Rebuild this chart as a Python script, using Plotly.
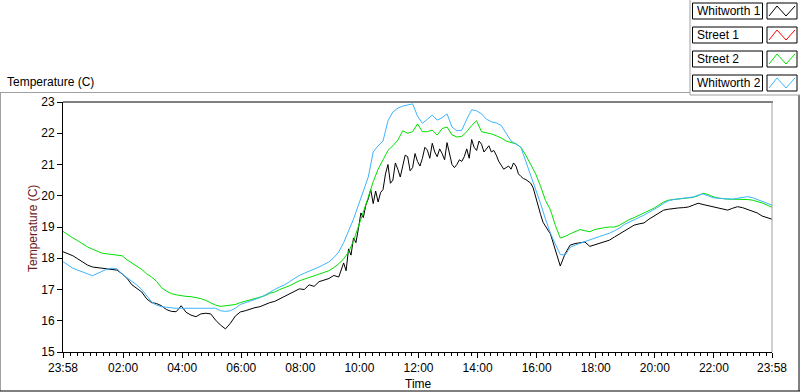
import plotly.graph_objects as go

# ---------------- data ----------------
# sample times: minutes after the 23:58 start
sample_minutes = list(range(0, 1441, 10))  # 10-minute readings (Street / Whitworth 2)
# Whitworth 1: 10-minute readings, 5-minute readings through the noisy midday
w1_minutes = list(range(0, 570, 10)) + list(range(570, 990, 5)) + list(range(990, 1441, 10))

whitworth_1 = [
    # 23:58 - 09:28 (10 min)
    18.21, 18.15, 18.08, 17.98, 17.89, 17.78, 17.72, 17.70, 17.68, 17.67,
    17.65, 17.62, 17.50, 17.36, 17.15, 17.02, 16.92, 16.70, 16.58, 16.55,
    16.48, 16.36, 16.30, 16.29, 16.48, 16.27, 16.18, 16.13, 16.22, 16.24,
    16.22, 16.02, 15.86, 15.74, 15.92, 16.15, 16.28, 16.32, 16.38, 16.42,
    16.45, 16.52, 16.58, 16.62, 16.70, 16.76, 16.85, 16.92, 17.02, 17.00,
    17.15, 17.10, 17.25, 17.30, 17.35, 17.45, 17.40,
    # 09:28 - 16:23 (5 min)
    17.85, 17.60, 18.30, 18.10, 18.65, 18.50, 18.95, 19.45, 19.30, 19.70,
    19.90, 20.20, 19.75, 20.15, 19.80, 20.10, 20.20, 20.70, 21.00, 20.40,
    20.50, 21.05, 20.85, 20.60, 20.95, 21.30, 21.25, 20.80, 20.90, 21.35,
    21.10, 20.95, 21.20, 21.55, 21.46, 21.20, 21.68, 21.40, 21.25, 21.50,
    21.35, 21.15, 21.70, 21.30, 21.00, 20.90, 21.00, 21.15, 21.10, 21.25,
    21.50, 21.20, 21.80, 21.55, 21.45, 21.75, 21.65, 21.40, 21.50, 21.60,
    21.40, 21.45, 21.30, 21.10, 20.98, 20.85, 20.90, 20.95, 20.85, 21.05,
    20.95, 20.70, 20.62, 20.55, 20.52, 20.45, 20.40, 20.25, 19.95, 19.70,
    19.40, 19.15, 19.00, 18.90,
    # 16:28 - 23:58 (10 min)
    18.78, 18.25, 17.75, 18.15, 18.42, 18.47, 18.50, 18.52, 18.38, 18.43,
    18.48, 18.52, 18.58, 18.68, 18.78, 18.87, 18.97, 19.06, 19.10, 19.13,
    19.25, 19.34, 19.45, 19.54, 19.57, 19.60, 19.61, 19.62, 19.64, 19.70,
    19.76, 19.72, 19.68, 19.66, 19.60, 19.56, 19.54, 19.60, 19.65, 19.62,
    19.56, 19.52, 19.45, 19.35, 19.30, 19.25,
]

street_1 = []  # no readings shown for this sensor

street_2 = [
    18.86, 18.75, 18.65, 18.56, 18.45, 18.36, 18.29, 18.22, 18.16, 18.14,
    18.12, 18.11, 18.08, 17.95, 17.85, 17.74, 17.64, 17.50, 17.40, 17.26,
    17.06, 16.95, 16.87, 16.83, 16.80, 16.78, 16.77, 16.75, 16.71, 16.65,
    16.58, 16.50, 16.46, 16.48, 16.49, 16.52, 16.58, 16.62, 16.66, 16.70,
    16.75, 16.80, 16.88, 16.92, 17.00, 17.05, 17.12, 17.20, 17.28, 17.33,
    17.38, 17.43, 17.50, 17.55, 17.60, 17.70, 17.82, 17.98, 18.20, 18.55,
    19.00, 19.45, 19.95, 20.45, 20.85, 21.15, 21.45, 21.60, 21.78, 22.08,
    22.00, 22.05, 22.30, 22.05, 22.05, 22.10, 21.94, 22.15, 22.20, 21.95,
    21.88, 21.90, 22.05, 22.25, 22.40, 22.05, 22.02, 21.98, 21.92, 21.85,
    21.75, 21.70, 21.66, 21.55, 21.30, 21.00, 20.70, 20.30, 19.85, 19.55,
    19.05, 18.65, 18.70, 18.78, 18.85, 18.92, 18.88, 18.85, 18.92, 18.96,
    18.98, 19.00, 19.00, 19.05, 19.15, 19.24, 19.30, 19.37, 19.45, 19.52,
    19.60, 19.70, 19.80, 19.86, 19.88, 19.89, 19.90, 19.92, 19.95, 20.00,
    20.08, 20.04, 19.97, 19.93, 19.90, 19.89, 19.89, 19.89, 19.89, 19.88,
    19.86, 19.82, 19.77, 19.70, 19.63,
]

whitworth_2 = [
    17.89, 17.78, 17.68, 17.62, 17.57, 17.50, 17.44, 17.52, 17.60, 17.66,
    17.68, 17.66, 17.50, 17.38, 17.27, 17.14, 17.00, 16.80, 16.60, 16.50,
    16.45, 16.43, 16.41, 16.40, 16.40, 16.40, 16.40, 16.40, 16.40, 16.40,
    16.40, 16.40, 16.32, 16.30, 16.32, 16.40, 16.52, 16.57, 16.62, 16.68,
    16.74, 16.82, 16.92, 17.00, 17.08, 17.15, 17.25, 17.35, 17.45, 17.52,
    17.58, 17.65, 17.72, 17.80, 17.88, 18.02, 18.20, 18.50, 18.85, 19.25,
    19.70, 20.15, 20.60, 21.40, 21.60, 21.75, 22.40, 22.68, 22.80, 22.87,
    22.90, 22.94, 22.55, 22.32, 22.45, 22.58, 22.42, 22.50, 22.62, 22.20,
    22.08, 22.10, 22.45, 22.75, 22.72, 22.62, 22.45, 22.37, 22.33, 22.25,
    22.00, 21.75, 21.66, 21.55, 21.10, 20.65, 20.25, 19.75, 19.25, 18.80,
    18.45, 18.12, 18.10, 18.35, 18.42, 18.48, 18.54, 18.60, 18.66, 18.70,
    18.75, 18.80, 18.88, 18.96, 19.08, 19.15, 19.22, 19.30, 19.38, 19.47,
    19.55, 19.65, 19.76, 19.84, 19.88, 19.90, 19.91, 19.93, 19.96, 20.02,
    20.06, 20.00, 19.94, 19.92, 19.91, 19.90, 19.89, 19.92, 19.95, 19.97,
    19.94, 19.88, 19.84, 19.77, 19.70,
]

series_names = ["Whitworth 1", "Street 1", "Street 2", "Whitworth 2"]
series_values = [whitworth_1, street_1, street_2, whitworth_2]
series_minutes = [w1_minutes, sample_minutes, sample_minutes, sample_minutes]
series_colors = ["#000000", "#FF0000", "#00E000", "#3CB4FF"]

start_hour = -2 / 60  # 23:58 of the previous day, in hours from midnight
tick_hours = [start_hour, 2, 4, 6, 8, 10, 12, 14, 16, 18, 20, 22, 23 + 58 / 60]
tick_labels = ["23:58", "02:00", "04:00", "06:00", "08:00", "10:00", "12:00",
               "14:00", "16:00", "18:00", "20:00", "22:00", "23:58"]
y_ticks = [15, 16, 17, 18, 19, 20, 21, 22, 23]

# ---------------- layout geometry (pixels) ----------------
W, H = 800, 392
L, R, T, B = 63, 28, 102, 40
PW, PH = W - L - R, H - T - B


def px(x):
    return (x - L) / PW


def py(y):
    return (H - B - y) / PH


FONT = "Liberation Sans, Arial, sans-serif"

fig = go.Figure()
for name, mins, vals, col in zip(series_names, series_minutes, series_values, series_colors):
    xs = [start_hour + m / 60 for m in mins][:len(vals)]
    fig.add_trace(go.Scatter(
        x=xs, y=vals, mode="lines", name=name,
        line=dict(color=col, width=1), showlegend=False,
    ))

shapes = []
# outer frame
shapes.append(dict(type="line", xref="paper", yref="paper",
                   x0=px(0), x1=px(690), y0=py(92.5), y1=py(92.5),
                   line=dict(color="#A0A0A0", width=1)))
shapes.append(dict(type="line", xref="paper", yref="paper",
                   x0=px(0.5), x1=px(0.5), y0=py(92.5), y1=py(391),
                   line=dict(color="#A0A0A0", width=1)))
shapes.append(dict(type="line", xref="paper", yref="paper",
                   x0=px(0), x1=px(800), y0=py(391), y1=py(391),
                   line=dict(color="#000000", width=1)))
shapes.append(dict(type="line", xref="paper", yref="paper",
                   x0=px(799), x1=px(799), y0=py(95), y1=py(391),
                   line=dict(color="#000000", width=1)))
shapes.append(dict(type="line", xref="paper", yref="paper",
                   x0=px(690), x1=px(690), y0=py(0), y1=py(95),
                   line=dict(color="#A0A0A0", width=1)))
shapes.append(dict(type="line", xref="paper", yref="paper",
                   x0=px(690), x1=px(800), y0=py(95), y1=py(95),
                   line=dict(color="#A0A0A0", width=1)))
# plot frame top (black) and right (grey)
shapes.append(dict(type="line", xref="paper", yref="paper",
                   x0=0, x1=px(773), y0=1, y1=1,
                   line=dict(color="#000000", width=1)))
shapes.append(dict(type="line", xref="paper", yref="paper",
                   x0=1, x1=1, y0=0, y1=1,
                   line=dict(color="#A0A0A0", width=1)))

annotations = []
# legend
row_tops = [3, 27, 51, 75]
for name, col, top in zip(series_names, series_colors, row_tops):
    bot = top + 16
    shapes.append(dict(type="rect", xref="paper", yref="paper",
                       x0=px(692.5), x1=px(762.5), y0=py(bot), y1=py(top),
                       line=dict(color="#000000", width=1), fillcolor="white"))
    shapes.append(dict(type="rect", xref="paper", yref="paper",
                       x0=px(767), x1=px(797), y0=py(bot), y1=py(top),
                       line=dict(color="#000000", width=1), fillcolor="white"))
    zz = "M {} {} L {} {} L {} {} L {} {}".format(
        px(769), py(bot - 3), px(777), py(top + 3),
        px(786), py(bot - 3), px(795), py(top + 3))
    shapes.append(dict(type="path", xref="paper", yref="paper", path=zz,
                       line=dict(color=col, width=1)))
    annotations.append(dict(text=name, xref="paper", yref="paper",
                            x=px(695), y=py((top + bot) / 2), xanchor="left",
                            yanchor="middle", showarrow=False,
                            font=dict(family=FONT, size=12, color="#000000")))

annotations.append(dict(text="Temperature (C)", xref="paper", yref="paper",
                        x=px(5), y=py(82), xanchor="left", yanchor="middle",
                        showarrow=False,
                        font=dict(family=FONT, size=12, color="#000000")))
annotations.append(dict(text="Temperature (C)", xref="paper", yref="paper",
                        x=px(33), y=py(229), xanchor="center", yanchor="middle",
                        textangle=-90, showarrow=False,
                        font=dict(family=FONT, size=12, color="#6E1A1A")))
annotations.append(dict(text="Time", xref="paper", yref="paper",
                        x=px(418), y=py(384), xanchor="center", yanchor="middle",
                        showarrow=False,
                        font=dict(family=FONT, size=12, color="#000000")))

fig.update_layout(
    width=W, height=H,
    margin=dict(l=L, r=R, t=T, b=B, autoexpand=False),
    paper_bgcolor="white", plot_bgcolor="white",
    font=dict(family=FONT, size=12, color="#000000"),
    shapes=shapes, annotations=annotations,
    showlegend=False,
)
fig.update_xaxes(
    range=[tick_hours[0], tick_hours[-1]],
    tickmode="array", tickvals=tick_hours, ticktext=tick_labels,
    ticks="outside", ticklen=5, tickcolor="#000000", tickwidth=1,
    showline=True, linecolor="#000000", linewidth=1,
    showgrid=False, zeroline=False,
    minor=dict(ticks="outside", ticklen=3, tickcolor="#000000",
               tickmode="linear", tick0=0, dtick=2 / 9, showgrid=False),
    tickfont=dict(family=FONT, size=12, color="#000000"),
)
fig.update_yaxes(
    range=[15, 23], tickmode="array", tickvals=y_ticks,
    ticks="outside", ticklen=5, tickcolor="#000000", tickwidth=1,
    showline=True, linecolor="#000000", linewidth=1,
    showgrid=False, zeroline=False,
    tickfont=dict(family=FONT, size=12, color="#000000"),
)

fig.write_html(
    "out.html",
    config={"displayModeBar": False},
    post_script="document.body.style.margin='0';document.body.style.overflow='hidden';",
)
